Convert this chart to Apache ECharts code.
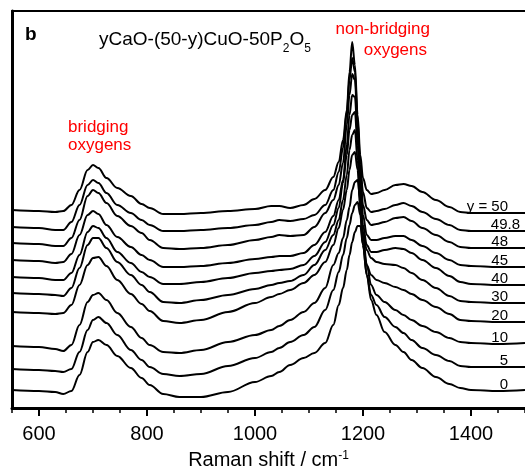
<!DOCTYPE html>
<html><head><meta charset="utf-8">
<script src="https://cdn.jsdelivr.net/npm/echarts@6/dist/echarts.min.js"></script>
<style>html,body{margin:0;padding:0;background:#fff}#c{width:525px;height:467px}</style>
</head><body><div id="c"></div>
<script>
// Raman shift grid (cm^-1)
const ramanShift = [550,600,630,645,660,675,690,700,710,725,745,770,790,805,830,860,900,950,1000,1030,1045,1065,1090,1110,1130,1145,1155,1163,1170,1175,1180,1185,1190,1195,1200,1207,1215,1225,1240,1260,1275,1290,1310,1335,1360,1380,1400,1450,1500];

// Stacked intensities (a.u., offset) for each composition
const y50   = [198,197,196,197,203,218,238,243,240,230,220,212,204,200,194,194,195,197,199,202,202,200,203,209,218,231,246,268,298,336,366,343,293,253,230,218,214,215,218,223,224,222,216,208,201,196,195,195,195];
const y49_8 = [181,180,178,178,186,203,223,228,225,215,203,195,188,183,177,177,178,180,183,186,188,187,189,193,203,218,236,260,296,328,350,336,288,243,216,200,196,197,199,203,205,202,196,189,183,178,177,177,177];
const y48   = [165,164,162,162,170,188,212,218,215,205,192,182,175,168,160,159,160,163,168,171,173,172,173,181,195,208,223,245,283,313,334,328,283,236,203,188,183,184,186,190,191,187,180,173,166,161,160,160,160];
const y45   = [148,147,145,146,154,173,193,197,194,183,171,161,153,148,141,141,142,145,149,151,152,152,155,163,176,192,208,228,263,293,313,311,273,228,193,173,168,168,170,172,172,168,162,155,148,143,142,141,141];
const y40   = [131,130,128,128,135,153,176,182,180,170,156,145,136,131,124,124,126,130,135,137,138,139,143,152,166,183,200,225,253,278,293,296,263,218,183,163,156,156,158,160,159,155,148,140,132,126,124,123,123];
const y30   = [115,114,113,112,120,140,163,170,170,160,146,133,123,116,106,105,108,113,119,123,125,127,133,143,158,173,188,208,233,258,273,278,248,208,176,158,150,146,144,143,140,135,128,120,112,107,106,105,105];
const y20   = [96,95,94,95,103,123,143,150,151,142,128,114,104,97,87,85,88,96,105,111,114,118,125,133,146,163,180,198,218,238,253,256,238,198,163,143,133,128,125,121,118,114,108,101,94,88,87,86,86];
const y10   = [62,61,59,57,63,83,106,113,115,108,95,81,70,63,56,55,58,66,73,78,82,88,96,105,120,143,155,170,188,201,218,226,228,208,173,143,123,113,106,98,93,88,82,76,70,66,65,64,65];
const y5    = [39,38,37,36,39,56,78,88,91,85,73,58,48,41,34,32,34,42,50,56,60,66,73,81,98,118,136,153,170,183,195,203,206,193,163,133,113,103,91,81,75,68,60,53,47,42,41,41,41];
const y0    = [18,17,16,14,17,33,56,66,68,63,52,40,30,23,14,11,11,16,26,32,36,43,50,55,65,83,103,120,138,153,166,176,182,182,163,133,108,93,76,63,56,48,40,31,24,20,18,17,18];

const sampleLabels = ['y = 50','49.8','48','45','40','30','20','10','5','0'];
const spectra = [y50, y49_8, y48, y45, y40, y30, y20, y10, y5, y0];
const xTickValues = [600, 800, 1000, 1200, 1400];

const FONT = '"Liberation Sans", Arial, sans-serif';
const labelIdx = ramanShift.indexOf(1450);

const series = spectra.map((s, k) => ({
  type: 'line',
  xAxisIndex: 0, yAxisIndex: 0,
  showSymbol: true, symbol: 'circle', symbolSize: 0,
  smooth: 0.35, smoothMonotone: 'x',
  silent: true,
  lineStyle: { color: '#000', width: 2 },
  itemStyle: { color: '#000' },
  emphasis: { disabled: true },
  data: ramanShift.map((x, i) => i === labelIdx ? {
    value: [x, s[i]],
    label: {
      show: true, formatter: sampleLabels[k], position: 'top', distance: 0,
      align: 'right', offset: [sampleLabels[k] === '49.8' ? 22 : 10, 1],
      fontSize: 15, fontFamily: FONT, color: '#000'
    }
  } : [x, s[i]])
}));

const chart = echarts.init(document.getElementById('c'), null, {renderer: 'canvas'});
chart.setOption({
  animation: false,
  backgroundColor: '#fff',
  grid: { left: 12, right: 0, top: 11, bottom: 59, containLabel: false, outerBoundsMode: 'none' },
  xAxis: [
    {
      type: 'value', min: 550, max: 1500, position: 'bottom',
      name: '{a|Raman shift / cm}{s|-1}', nameLocation: 'middle', nameGap: 42,
      nameTextStyle: { rich: {
        a: { fontSize: 20, fontFamily: FONT, color: '#000', lineHeight: 22, verticalAlign: 'top' },
        s: { fontSize: 12, fontFamily: FONT, color: '#000', lineHeight: 10, verticalAlign: 'top' }
      }},
      axisLine: { show: true, onZero: false, lineStyle: { color: '#000', width: 3 } },
      axisTick: { show: true, customValues: xTickValues, length: 8, lineStyle: { color: '#000', width: 2 } },
      axisLabel: { show: true, customValues: xTickValues, formatter: v => String(v), fontSize: 20, fontFamily: FONT, color: '#000', margin: 16 },
      splitLine: { show: false }
    },
    {
      type: 'value', min: 550, max: 1500, interval: 50, position: 'bottom',
      axisLine: { show: false },
      axisTick: { show: true, length: 5, lineStyle: { color: '#000', width: 1.5 } },
      axisLabel: { show: false },
      splitLine: { show: false }
    },
    {
      type: 'value', min: 550, max: 1500, position: 'top',
      axisLine: { show: true, onZero: false, lineStyle: { color: '#000', width: 2 } },
      axisTick: { show: false }, axisLabel: { show: false }, splitLine: { show: false }
    }
  ],
  yAxis: {
    type: 'value', min: 0, max: 397,
    axisLine: { show: true, onZero: false, lineStyle: { color: '#000', width: 3 } },
    axisTick: { show: false }, axisLabel: { show: false }, splitLine: { show: false }
  },
  graphic: [
    { type: 'text', silent: true, style: { text: 'b', x: 25, y: 35, font: 'bold 19px ' + FONT, fill: '#000', textAlign: 'left', textVerticalAlign: 'middle' } },
    { type: 'text', silent: true, style: {
      text: '{m|yCaO-(50-y)CuO-50P}{s|2}{m|O}{s|5}', x: 99, y: 30, textAlign: 'left', textVerticalAlign: 'top',
      rich: {
        m: { fontSize: 19, fontFamily: FONT, fill: '#000', lineHeight: 19, verticalAlign: 'top' },
        s: { fontSize: 12, fontFamily: FONT, fill: '#000', lineHeight: 12, verticalAlign: 'top', padding: [13, 0, 0, 0] }
      } } },
    { type: 'text', silent: true, style: { text: 'non-bridging', x: 430, y: 29, font: '17px ' + FONT, fill: '#ff0000', textAlign: 'right', textVerticalAlign: 'middle' } },
    { type: 'text', silent: true, style: { text: 'oxygens', x: 427, y: 50.7, font: '17px ' + FONT, fill: '#ff0000', textAlign: 'right', textVerticalAlign: 'middle' } },
    { type: 'text', silent: true, style: { text: 'bridging', x: 68, y: 127, font: '17px ' + FONT, fill: '#ff0000', textAlign: 'left', textVerticalAlign: 'middle' } },
    { type: 'text', silent: true, style: { text: 'oxygens', x: 68, y: 145.7, font: '17px ' + FONT, fill: '#ff0000', textAlign: 'left', textVerticalAlign: 'middle' } }
  ],
  series: series
});
</script></body></html>
